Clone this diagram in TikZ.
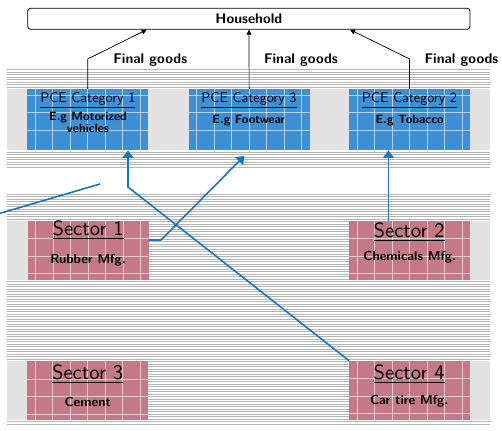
\documentclass[tikz,border=0pt]{standalone}
\usepackage{graphicx}
\usetikzlibrary{arrows.meta,calc}
\definecolor{pceblue}{HTML}{3D8FD6}
\definecolor{secpink}{HTML}{C47A86}
\definecolor{flowblue}{HTML}{1A74C4}
\definecolor{stripegray}{HTML}{B4B4B4}
\definecolor{sidegray}{HTML}{E2E2E2}
\newcommand{\pcettl}[1]{\scalebox{1.41}{\fontsize{10}{12}\selectfont\underline{#1}}}
\newcommand{\secttl}[1]{\scalebox{2.06}{\fontsize{10}{12}\selectfont\underline{#1}}}
\begin{document}
\begin{tikzpicture}[x=1pt,y=-1pt,
  boxgrid/.style={path picture={
    \foreach \k in {0,...,6} {\draw[white,opacity=0.6,line width=0.8pt]
      ([xshift=8pt+17.5pt*\k]path picture bounding box.north west) --
      ([xshift=8pt+17.5pt*\k]path picture bounding box.south west);}
    \foreach \k in {0,1,2} {\draw[white,opacity=0.6,line width=0.8pt]
      ([yshift=-#1-17.5pt*\k]path picture bounding box.north west) --
      ([yshift=-#1-17.5pt*\k]path picture bounding box.north east);}
  }},
  pcebox/.style={rectangle, inner sep=0pt, minimum width=121pt, minimum height=61pt, fill=pceblue, boxgrid=6pt},
  secbox/.style={rectangle, inner sep=0pt, minimum width=121pt, minimum height=59pt, fill=secpink, boxgrid=18pt},
  hhbox/.style={rectangle, rounded corners=3pt, draw=black, line width=0.8pt, inner sep=0pt,
    minimum width=442.3pt, minimum height=21pt, font=\sffamily\bfseries\fontsize{14}{16}\selectfont},
  pcetitle/.style={anchor=base, inner sep=0pt, font=\sffamily},
  pcesub/.style={anchor=base, inner sep=0pt, align=center, font=\sffamily\bfseries\fontsize{12}{8.7}\selectfont},
  sectitle/.style={anchor=base, inner sep=0pt, font=\sffamily},
  secsub/.style={anchor=base, inner sep=0pt, font=\sffamily\bfseries\fontsize{13}{15}\selectfont},
  fglabel/.style={anchor=base, inner sep=0pt, font=\sffamily\bfseries\fontsize{14}{16}\selectfont},
  blackarrow/.style={draw=black, line width=0.7pt, -{Triangle[length=5pt,width=5pt]}},
  flowarrow/.style={draw=flowblue, line width=1.6pt, -{Triangle[length=7.5pt,width=11pt]}},
  flowline/.style={draw=flowblue, line width=1.6pt}
]
\useasboundingbox (0,0) rectangle (502,430);

% background stripes
\foreach \yy in {70,72.5,...,167.5} \draw[stripegray, line width=1pt] (7,\yy) -- (490,\yy);
\foreach \yy in {194,196.5,...,426} \draw[stripegray, line width=1pt] (7,\yy) -- (490,\yy);
% lighter side bands at the box rows
\fill[sidegray] (7,89.3) rectangle (27.3,150);
\fill[sidegray] (148.3,89.3) rectangle (188.6,150);
\fill[sidegray] (309.7,89.3) rectangle (349,150);
\fill[sidegray] (470,89.3) rectangle (490,150);
\fill[sidegray] (7,221) rectangle (27.6,280);
\fill[sidegray] (470,221) rectangle (490,280);
\fill[sidegray] (7,361) rectangle (27.2,420);
\fill[sidegray] (470,361) rectangle (490,420);

% household
\node[hhbox] (hh) at (248.85,18.8) {Household};

% PCE boxes
\node[pcebox] (p1) at (87.8,119.65) {};
\node[pcebox] (p3) at (249.15,119.65) {};
\node[pcebox] (p2) at (409.5,119.65) {};
\node[pcetitle] (p1t) at (87.8,102.7) {\pcettl{PCE Category 1}};
\node[pcetitle] (p3t) at (249,102.7) {\pcettl{PCE Category 3}};
\node[pcetitle] (p2t) at (409.5,102.7) {\pcettl{PCE Category 2}};
\node[pcesub] (p1s) at (88,132.7) {E.g Motorized\\vehicles};
\node[pcesub] (p3s) at (248.7,123.3) {E.g Footwear};
\node[pcesub] (p2s) at (409.7,123.3) {E.g Tobacco};

% sector boxes
\node[secbox] (s1) at (88.2,250.2) {};
\node[secbox] (s2) at (409.5,250.35) {};
\node[secbox] (s3) at (87.7,390.5) {};
\node[secbox] (s4) at (409.5,390.2) {};
\node[sectitle] (s1t) at (88.2,235.5) {\secttl{Sector 1}};
\node[sectitle] (s2t) at (409.2,237) {\secttl{Sector 2}};
\node[sectitle] (s3t) at (87.7,379) {\secttl{Sector 3}};
\node[sectitle] (s4t) at (409.2,379) {\secttl{Sector 4}};
\node[secsub] (s1s) at (88,263.3) {Rubber Mfg.};
\node[secsub] (s2s) at (409.7,260) {Chemicals Mfg.};
\node[secsub] (s3s) at (87.7,406) {Cement};
\node[secsub] (s4s) at (409.2,404) {Car tire Mfg.};

% final goods
\node[fglabel] (fg1) at (150.3,63.3) {Final goods};
\node[fglabel] (fg2) at (301,63.3) {Final goods};
\node[fglabel] (fg3) at (461.5,63.3) {Final goods};
\draw[blackarrow] (p1.north) -- ++(0,-30) -- ([xshift=-102.2pt]hh.south);
\draw[blackarrow] (p3.north) -- ([xshift=0.15pt]hh.south);
\draw[blackarrow] (p2.north) -- ++(0,-30) -- ([xshift=101.2pt]hh.south);

% input flows
\coordinate (c1) at (128,187);
\draw[flowarrow] (s4.north west) -- (c1) -- ([xshift=40.2pt]p1.south);
\coordinate (c2) at (161,240);
\draw[flowarrow] ([yshift=10.2pt]s1.east) -- (c2) -- ([xshift=-4.8pt,yshift=-5.5pt]p3.south);
\draw[flowarrow] ([xshift=-21pt]s2.north) -- ([xshift=-21pt]p2.south);
\coordinate (stray0) at (-3,214.2);
\coordinate (stray1) at (100,184);
\draw[flowline] (stray0) -- (stray1);
\end{tikzpicture}
\end{document}
